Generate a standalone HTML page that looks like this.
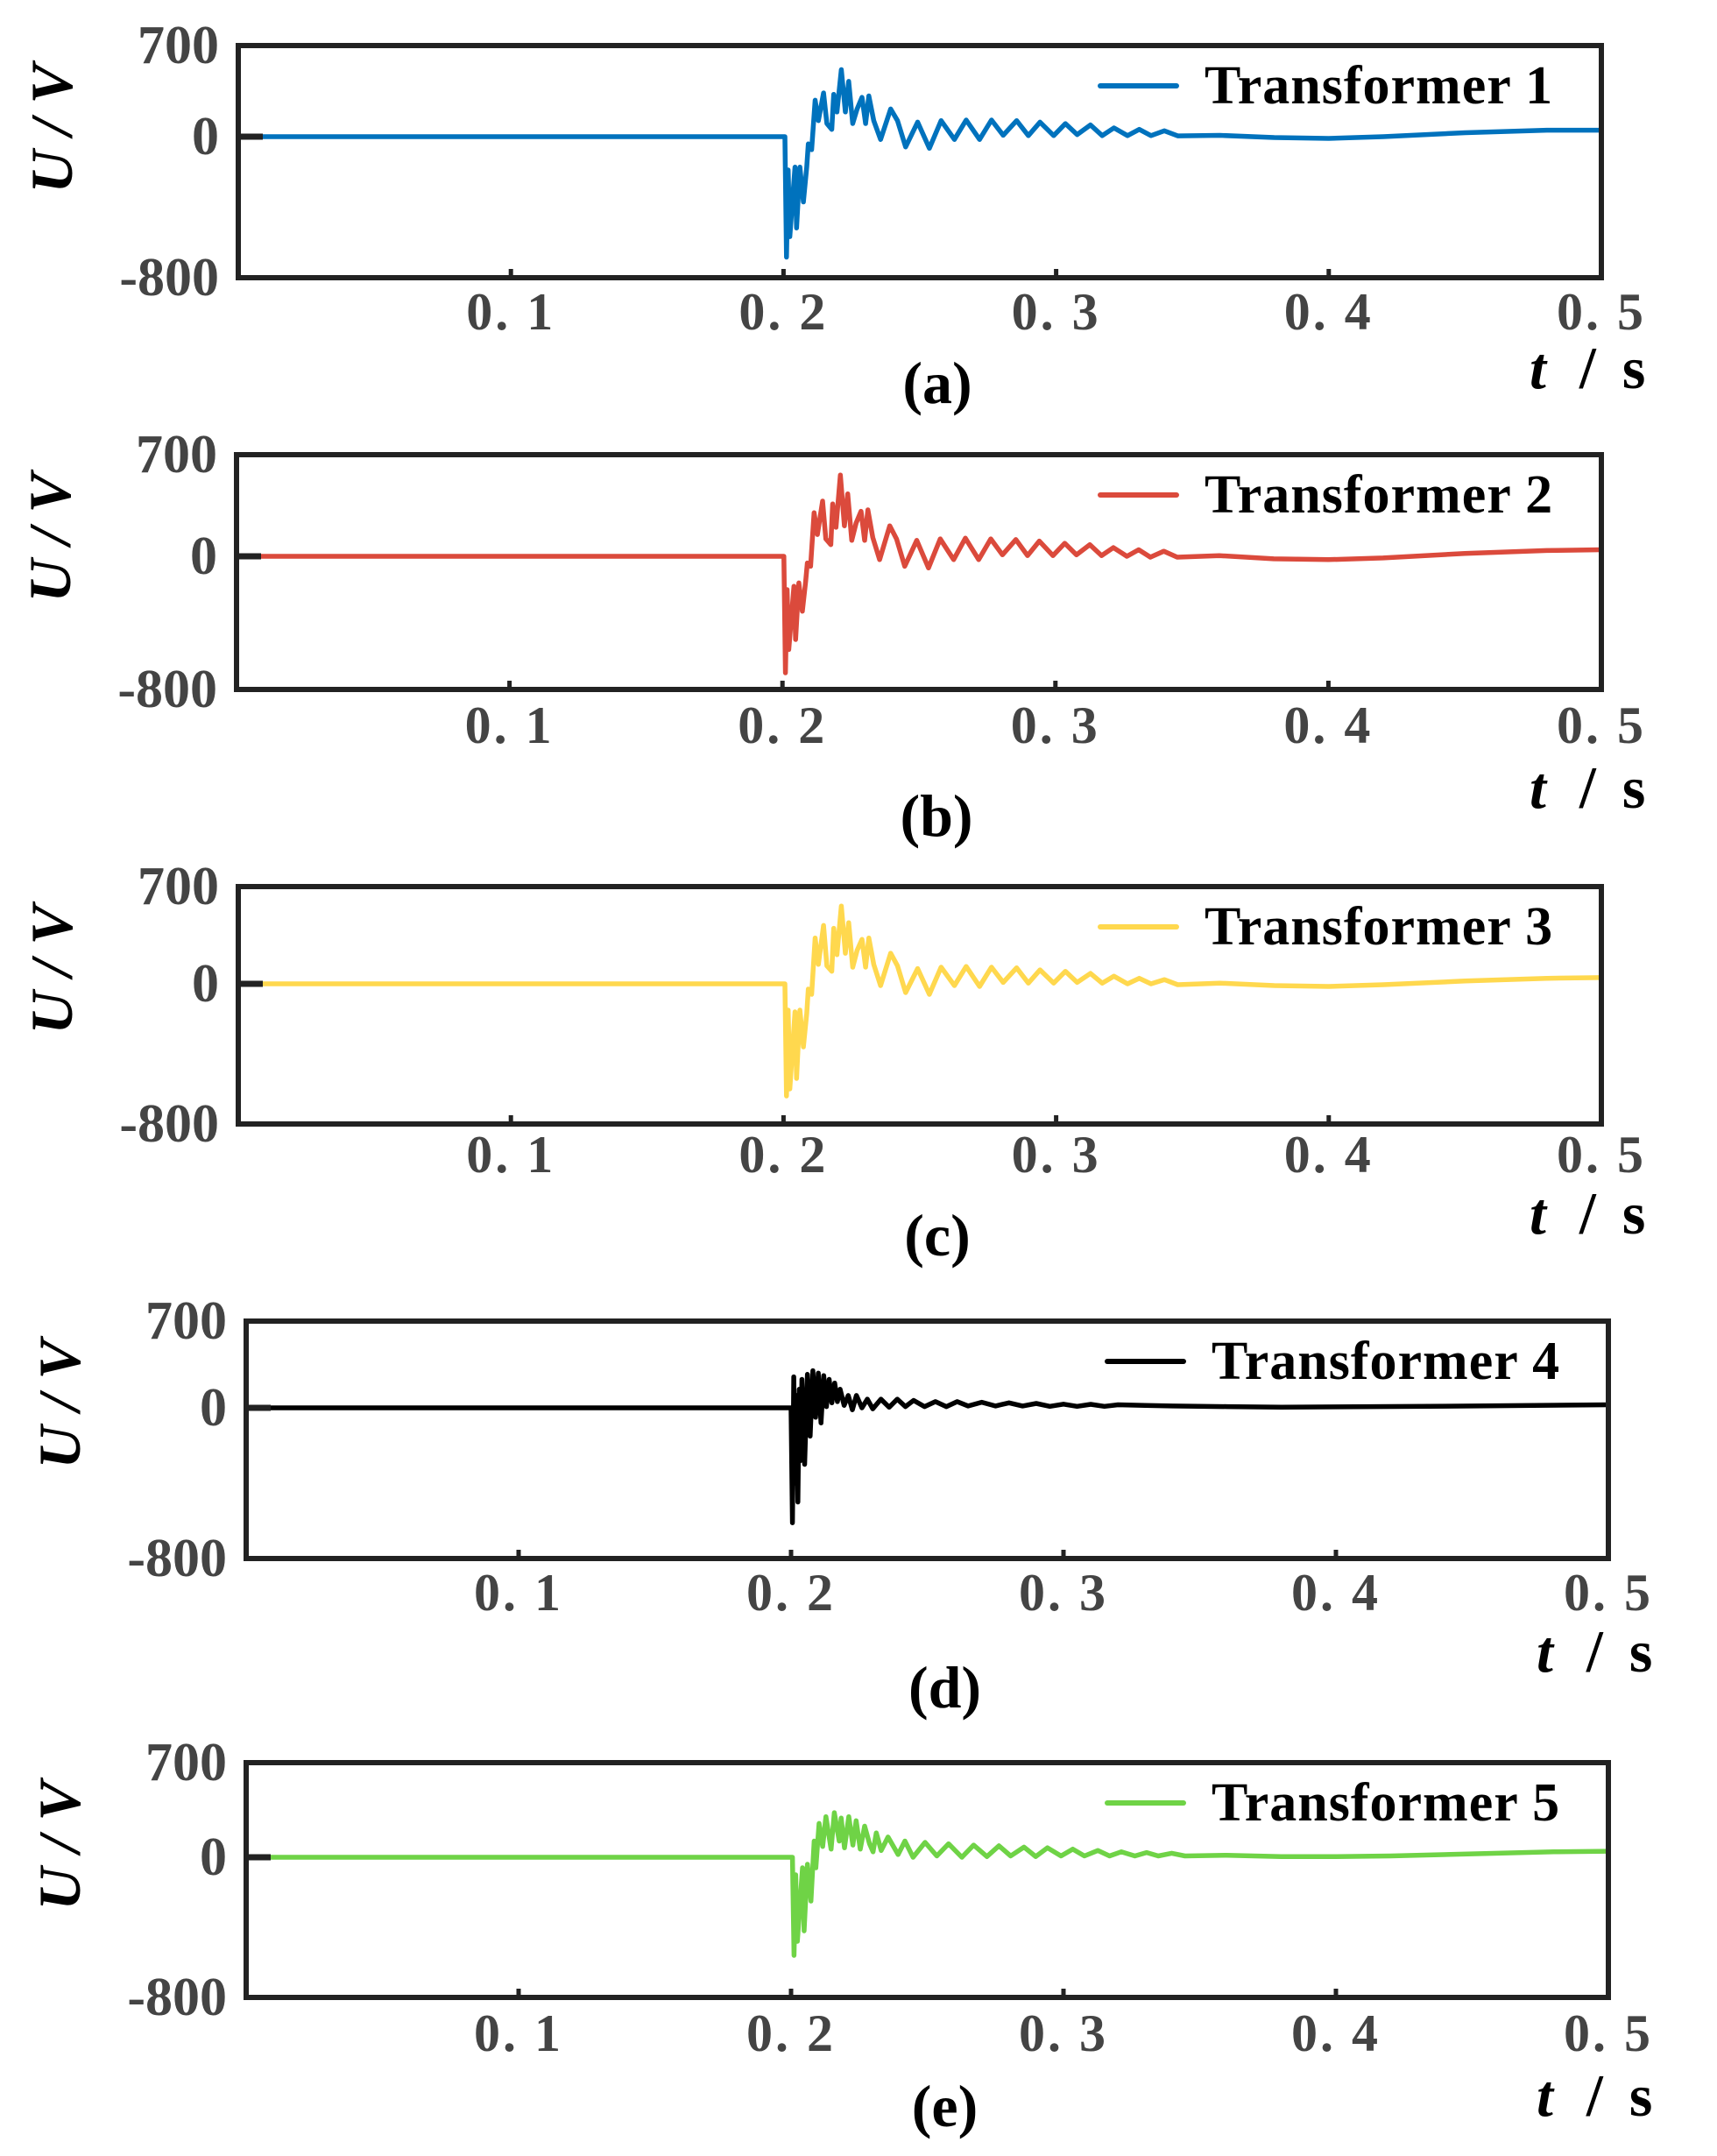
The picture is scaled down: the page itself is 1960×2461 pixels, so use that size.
<!DOCTYPE html>
<html><head><meta charset="utf-8"><style>
html,body{margin:0;padding:0;background:#fff;}
svg{display:block;}
text{font-family:"Liberation Serif",serif;font-weight:bold;}
</style></head><body>
<svg id="fig" width="1960" height="2461" viewBox="0 0 1960 2461" xmlns="http://www.w3.org/2000/svg"></svg>
<script>
// shared time axis samples (s)
const times = [0,0.2,0.2005,0.2011,0.2017,0.2023,0.2042,0.2048,0.2060,0.2073,0.2085,0.2091,0.2103,0.2116,0.2128,0.2147,0.2159,0.2177,0.2184,0.2196,0.2212,0.2227,0.2239,0.2254,0.2270,0.2288,0.2301,0.2313,0.2331,0.2356,0.2393,0.2418,0.2448,0.2492,0.2535,0.2578,0.2627,0.2670,0.2719,0.2763,0.2806,0.2855,0.2898,0.2941,0.2991,0.3034,0.3077,0.3126,0.3169,0.3212,0.3262,0.3305,0.3348,0.3397,0.3446,0.36,0.38,0.40,0.42,0.45,0.48,0.5];
const seriesA = [0,0,0,-683,-189,-567,-173,-518,-173,-370,-173,-41,-74,280,123,336,101,56,325,190,515,190,425,101,213,302,101,313,123,-16,213,123,-58,112,-66,123,-16,128,-16,128,11,123,8,112,8,100,16,90,8,67,8,56,8,45,6,10,-5,-10,0,30,50,50];
const seriesB = [0,0,0,-700,-200,-560,-180,-500,-160,-330,-150,-40,-60,300,150,380,120,80,360,200,560,210,430,110,230,310,110,320,130,-20,210,120,-60,110,-70,120,-20,125,-20,120,10,115,5,105,5,90,10,80,5,60,0,45,-5,35,-5,5,-15,-20,-10,20,40,45];
const seriesC = [0,0,0,-640,-150,-600,-160,-540,-150,-360,-170,-30,-60,330,140,420,130,90,400,210,560,220,440,120,240,320,120,330,140,-10,220,130,-50,110,-60,120,-10,125,-15,120,10,115,5,100,5,90,10,75,5,55,0,40,0,30,-5,5,-10,-15,-5,20,40,45];
const seriesE = [0,0,0,-560,-100,-480,-60,-420,-40,-250,120,-60,250,80,300,60,330,120,290,70,300,90,270,60,230,100,40,180,50,150,20,120,0,110,10,100,0,90,5,85,10,75,5,70,10,60,10,50,10,40,10,35,10,30,10,15,5,5,10,25,40,45];
// transformer 4 has its own (denser) sampling
const timesD = [0,0.2,0.2005,0.2010,0.2015,0.2020,0.2025,0.2030,0.2035,0.2040,0.2050,0.2060,0.2070,0.2080,0.2090,0.2100,0.2110,0.2120,0.2130,0.2140,0.2150,0.2160,0.2170,0.2180,0.2195,0.2210,0.2225,0.2240,0.2260,0.2280,0.2300,0.2330,0.2360,0.2390,0.2420,0.2450,0.2490,0.2530,0.2570,0.2610,0.2650,0.2700,0.2750,0.2800,0.2850,0.2900,0.2950,0.3000,0.3050,0.3100,0.3150,0.3200,0.3300,0.3400,0.3600,0.3800,0.4000,0.4500,0.5];
const seriesD = [0,0,-610,250,-400,100,-500,150,-280,230,-300,270,-150,300,-50,280,-80,260,10,230,40,200,50,150,20,100,-10,100,0,70,-5,70,5,70,10,60,10,50,10,50,15,45,15,40,15,35,12,30,12,28,12,25,20,15,10,5,8,15,25];
const xTickVals = [0.1,0.2,0.3,0.4,0.5];
const xTickLabels = ["0. 1","0. 2","0. 3","0. 4","0. 5"];
const yTickLabels = ["700","0","-800"];
const legendNames = ["Transformer 1","Transformer 2","Transformer 3","Transformer 4","Transformer 5"];
const panelLetters = ["(a)","(b)","(c)","(d)","(e)"];

const NS="http://www.w3.org/2000/svg";
const svg=document.getElementById('fig');
function mk(tag,attrs,parent){const e=document.createElementNS(NS,tag);for(const k in attrs)e.setAttribute(k,attrs[k]);(parent||svg).appendChild(e);return e;}

const panels=[
 {tt:times,data:seriesA,color:"#0072BD",l:272,r:1828,t:52,b:317,z:156,lab:356,let:438,ts:423},
 {tt:times,data:seriesB,color:"#DB4A3C",l:270,r:1828,t:519,b:787,z:635,lab:828,let:932,ts:902},
 {tt:times,data:seriesC,color:"#FFD84E",l:272,r:1828,t:1012,b:1283,z:1123,lab:1318,let:1411,ts:1388},
 {tt:timesD,data:seriesD,color:"#000000",l:281,r:1836,t:1508,b:1779,z:1607,lab:1818,let:1927,ts:1888},
 {tt:times,data:seriesE,color:"#6FD346",l:281,r:1836,t:2012,b:2280,z:2120,lab:2321,let:2405,ts:2395}
];
panels.forEach((p,i)=>{
  const g=mk('g',{});
  
  
  const xs=t=>p.l+(t/0.5)*(p.r-p.l);
  const ys=v=>v>=0? p.z-(v/700)*(p.z-p.t) : p.z+(-v/800)*(p.b-p.z);
  let d='';
  p.tt.forEach((t,k)=>{d+=(k?'L':'M')+xs(t).toFixed(1)+' '+ys(p.data[k]).toFixed(1);});
  const line=mk('path',{d:d,fill:'none',stroke:p.color,'stroke-width':5.5,'stroke-linejoin':'round'},g);
  
  
  const box=mk('rect',{x:p.l,y:p.t,width:p.r-p.l,height:p.b-p.t,fill:'none',stroke:'#222','stroke-width':6},g);
  
  
  mk('line',{x1:p.l,y1:p.z,x2:p.l+28,y2:p.z,stroke:'#222','stroke-width':7},g);
  xTickVals.forEach((v,k)=>{
    const x=xs(v);
    mk('line',{x1:x,y1:p.b,x2:x,y2:p.b-10,stroke:'#222','stroke-width':5},g);
    const tx=mk('text',{x:x,y:p.lab+20,'text-anchor':'middle','font-size':60,fill:'#444','letter-spacing':'3'},g);
    tx.textContent=xTickLabels[k];
    
    
  });
  [[p.t,yTickLabels[0]],[p.z,yTickLabels[1]],[p.b,yTickLabels[2]]].forEach(([y,s])=>{
    const ty=mk('text',{x:p.l-22,y:y+20,'text-anchor':'end','font-size':62,fill:'#444'},g);
    ty.textContent=s;
    
    
  });
  const cy=p.t+95;
  const yt=mk('text',{x:0,y:0,transform:`translate(${p.l-190},${cy}) rotate(-90)`,'text-anchor':'middle','font-size':68,'font-style':'italic',fill:'#000'},g);
  yt.textContent='U / V';
  
  
  const xt=mk('text',{x:p.r-82,y:p.ts+20,'font-size':68,fill:'#000'},g);
  xt.innerHTML='<tspan font-style="italic">t</tspan><tspan dx="38">/</tspan><tspan dx="30">s</tspan>';
  
  
  const pl=mk('text',{x:(p.l+p.r)/2+20,y:p.let+22,'text-anchor':'middle','font-size':68,fill:'#000'},g);
  pl.textContent=panelLetters[i];
  
  
  const ly=p.t+46;
  const lg=mk('g',{},g);
  
  
  mk('line',{x1:p.r-572,y1:ly,x2:p.r-485,y2:ly,stroke:p.color,'stroke-width':6,'stroke-linecap':'round'},lg);
  const lt=mk('text',{x:p.r-453,y:ly+20,'font-size':62,fill:'#000','letter-spacing':'1'},lg);
  lt.textContent=legendNames[i];
});
</script>
</body></html>
